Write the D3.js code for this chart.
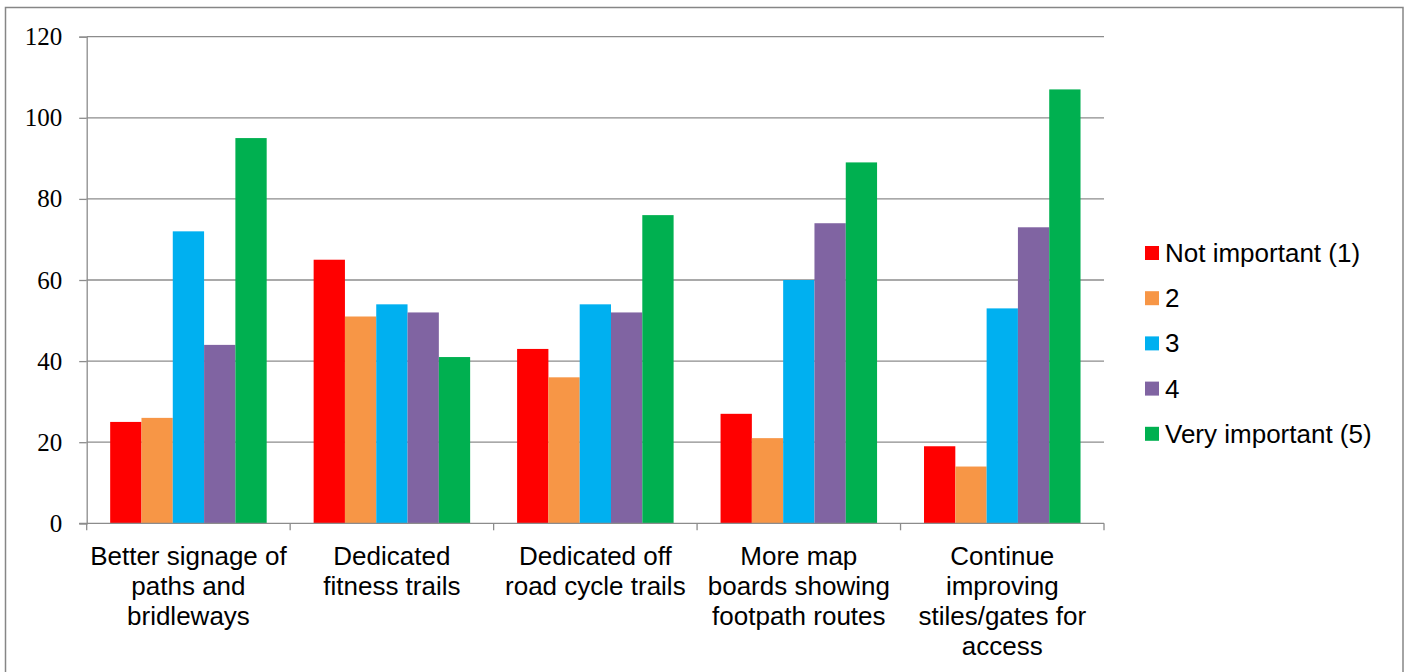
<!DOCTYPE html>
<html>
<head>
<meta charset="utf-8">
<script src="https://cdn.jsdelivr.net/npm/d3@7"></script>
<style>
  body { margin: 0; background: #fff; }
  svg { display: block; }
  .ylab { font-family: "Liberation Serif", "Times New Roman", serif; font-size: 25px; }
</style>
</head>
<body>
<div id="canvas"></div>
<script>
// data
const categories = [
    ["Better signage of", "paths and", "bridleways"],
    ["Dedicated", "fitness trails"],
    ["Dedicated off", "road cycle trails"],
    ["More map", "boards showing", "footpath routes"],
    ["Continue", "improving", "stiles/gates for", "access"]
];
const seriesNames = ["Not important (1)", "2", "3", "4", "Very important (5)"];
const seriesColors = ["#FF0000", "#F79646", "#00B0F0", "#8064A2", "#00B050"];
const values = [
    [25, 65, 43, 27, 19],
    [26, 51, 36, 21, 14],
    [72, 54, 54, 60, 53],
    [44, 52, 52, 74, 73],
    [95, 41, 76, 89, 107]
];
const yTicks = [0, 20, 40, 60, 80, 100, 120];

const width = 1407, height = 672;
const plot = { left: 86.7, right: 1104, top: 36.7, bottom: 523.3 };

const svg = d3.select("#canvas").append("svg")
    .attr("width", width)
    .attr("height", height);

// outer chart border
svg.append("rect")
    .attr("x", 5.5)
    .attr("y", 7.5)
    .attr("width", 1397.5)
    .attr("height", 680)
    .attr("fill", "none")
    .attr("stroke", "#868686")
    .attr("stroke-width", 1.5);

const x = d3.scaleBand()
    .domain(d3.range(categories.length))
    .range([plot.left, plot.right]);

const inner = d3.scaleBand()
    .domain(d3.range(seriesNames.length))
    .range([0, x.bandwidth()])
    .paddingOuter(0.75)
    .paddingInner(0);

const y = d3.scaleLinear()
    .domain([0, 120])
    .range([plot.bottom, plot.top]);

// gridlines
svg.append("g")
    .selectAll("line")
    .data(yTicks.slice(1))
    .join("line")
    .attr("x1", plot.left)
    .attr("x2", plot.right)
    .attr("y1", d => y(d))
    .attr("y2", d => y(d))
    .attr("stroke", "#8c8c8c")
    .attr("stroke-width", 1.3);

// bars
values.forEach(function (row, s) {
    svg.append("g")
        .attr("fill", seriesColors[s])
        .selectAll("rect")
        .data(row)
        .join("rect")
        .attr("x", (d, i) => x(i) + inner(s))
        .attr("width", inner.bandwidth())
        .attr("y", d => y(d))
        .attr("height", d => y(0) - y(d));
});

// y axis
const yAxis = svg.append("g")
    .attr("transform", `translate(${plot.left},0)`)
    .call(d3.axisLeft(y).tickValues(yTicks).tickSize(7.5).tickPadding(17));
yAxis.attr("font-family", null).attr("font-size", null);
yAxis.select(".domain").attr("stroke", "#8c8c8c").attr("stroke-width", 1.3);
yAxis.selectAll(".tick line").attr("stroke", "#8c8c8c").attr("stroke-width", 1.3);
yAxis.selectAll(".tick text")
    .attr("class", "ylab")
    .attr("fill", "#000");

// x axis
const xAxis = svg.append("g")
    .attr("transform", `translate(0,${plot.bottom})`);
xAxis.append("line")
    .attr("x1", plot.left - 7.5)
    .attr("x2", plot.right)
    .attr("stroke", "#8c8c8c")
    .attr("stroke-width", 1.3);
xAxis.selectAll(".xtick")
    .data(d3.range(categories.length + 1))
    .join("line")
    .attr("class", "xtick")
    .attr("x1", d => plot.left + d * x.step())
    .attr("x2", d => plot.left + d * x.step())
    .attr("y1", 0)
    .attr("y2", 7)
    .attr("stroke", "#8c8c8c")
    .attr("stroke-width", 1.3);

const labels = svg.append("g")
    .style("font-family", "'Liberation Sans', Arial, sans-serif")
    .style("font-size", "26px")
    .attr("fill", "#000")
    .attr("text-anchor", "middle");
categories.forEach(function (lines, i) {
    const t = labels.append("text")
        .attr("x", x(i) + x.bandwidth() / 2)
        .attr("y", 565);
    lines.forEach(function (ln, k) {
        t.append("tspan")
            .attr("x", x(i) + x.bandwidth() / 2)
            .attr("dy", k === 0 ? 0 : 30)
            .text(ln);
    });
});

// legend
const legend = svg.append("g")
    .style("font-family", "'Liberation Sans', Arial, sans-serif")
    .style("font-size", "26px")
    .attr("fill", "#000");
const item = legend.selectAll("g")
    .data(seriesNames)
    .join("g")
    .attr("transform", (d, i) => `translate(1145,${253 + i * 45.2})`);
item.append("rect")
    .attr("x", 0)
    .attr("y", -7)
    .attr("width", 14)
    .attr("height", 14)
    .attr("fill", (d, i) => seriesColors[i]);
item.append("text")
    .attr("x", 20)
    .attr("y", 9)
    .text(d => d);
</script>
</body>
</html>
